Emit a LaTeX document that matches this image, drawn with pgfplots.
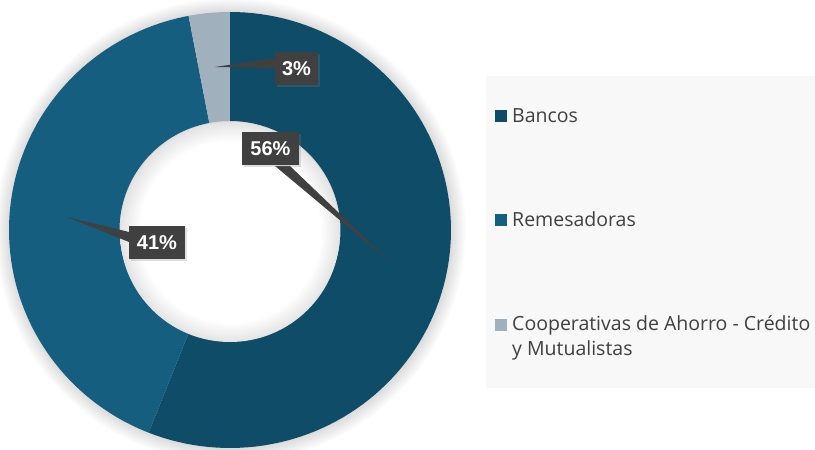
\documentclass[border=0pt]{standalone}
\usepackage{fontspec}
\setmainfont{Open Sans}
\newfontfamily\labelfont{Liberation Sans}
\usepackage{pgfplots}
\usepackage{pgfplotstable}
\pgfplotsset{compat=1.18}
\usetikzlibrary{shadows}

\definecolor{bancos}{RGB}{14,76,104}
\definecolor{remesa}{RGB}{21,94,127}
\definecolor{coop}{RGB}{161,176,189}
\definecolor{labelbox}{RGB}{64,64,64}
\definecolor{legendbg}{RGB}{248,248,248}
\definecolor{legendtext}{RGB}{64,64,64}

% soft edge inside the hole and round the ring
\pgfdeclareradialshading{holeshade}{\pgfpoint{0bp}{0bp}}{%
  color(0bp)=(white); color(20.5bp)=(white); color(25bp)=(black!11); color(50bp)=(black!11)}
\pgfdeclareradialshading{glowshade}{\pgfpoint{0bp}{0bp}}{%
  color(0bp)=(black!14); color(23.4bp)=(black!14); color(25bp)=(white); color(50bp)=(white)}

% share of each sector (%)
\pgfplotstableread{
sector value
Bancos 56
Remesadoras 41
Cooperativas 3
}\donutdata

% outer radii (x, y) and hole fraction
\def\rx{221}
\def\ry{218}
\def\hole{0.5}

% one ring slice from angle #1 to #2 (clockwise)
\newcommand\slice[3]{%
  \addplot[fill=#3, draw=none, domain=0:2.01, samples=202, variable=\t]
  ({\rx*ifthenelse(\t<1.005,1,\hole)*cos(ifthenelse(\t<1.005,(#1)+((#2)-(#1))*min(\t,1),(#2)+((#1)-(#2))*min(\t-1.01,1)))},
   {\ry*ifthenelse(\t<1.005,1,\hole)*sin(ifthenelse(\t<1.005,(#1)+((#2)-(#1))*min(\t,1),(#2)+((#1)-(#2))*min(\t-1.01,1)))});
}

\begin{document}
\begin{tikzpicture}[
  lab/.style={fill=labelbox, text=white, inner sep=0pt, minimum height=33pt,
    font=\labelfont\bfseries\fontsize{20}{23}\selectfont,
    drop shadow={opacity=0.25, shadow xshift=2pt, shadow yshift=-2pt}},
  leg/.style={anchor=base west, inner sep=0pt, text=legendtext,
    font=\fontsize{19.5}{23}\selectfont}
]
% cumulative angles, clockwise from 12 o'clock
\pgfplotstablegetelem{0}{value}\of\donutdata\edef\vBan{\pgfplotsretval}
\pgfplotstablegetelem{1}{value}\of\donutdata\edef\vRem{\pgfplotsretval}
\pgfplotstablegetelem{2}{value}\of\donutdata\edef\vCoo{\pgfplotsretval}
\pgfmathsetmacro\total{\vBan+\vRem+\vCoo}
\pgfmathsetmacro\aA{90}
\pgfmathsetmacro\aB{\aA-\vBan/\total*360}
\pgfmathsetmacro\aC{\aB-\vRem/\total*360}
\pgfmathsetmacro\aD{\aC-\vCoo/\total*360}
\begin{axis}[
  scale only axis, width=815pt, height=450pt,
  xmin=-230, xmax=585, ymin=-220, ymax=230,
  hide axis, clip=false
]
% legend panel
\fill[legendbg] (256,154) rectangle (585,-158);
% faint glow round the ring
\shade[shading=glowshade] (0,0) ellipse [x radius=236, y radius=233];

\slice{\aA}{\aB}{bancos}
\slice{\aB}{\aC}{remesa}
\slice{\aC}{\aD}{coop}

% hole with soft inner edge
\shade[shading=holeshade] (0,-2) ellipse [x radius=110, y radius=110];

% data labels with callouts
\fill[labelbox] (-15,163) -- (45,172) -- (45,162) -- cycle;
\node[lab, minimum width=43pt] at (66.5,161.5) {3\%};
\fill[labelbox] (160,-32) -- (45,64) -- (60,64) -- cycle;
\node[lab, minimum width=57pt] at (40.5,81) {56\%};
\fill[labelbox] (-163,13) -- (-101,-2) -- (-101,-12) -- cycle;
\node[lab, minimum width=56pt] at (-73,-12.5) {41\%};

% legend
\fill[bancos] (265,107.7) rectangle (277,120);
\node[leg] at (282,107.5) {Bancos};
\fill[remesa] (265,4.3) rectangle (277,16);
\node[leg] at (282,3.5) {Remesadoras};
\fill[coop] (265,-101) rectangle (277,-89.5);
\node[leg] at (282,-101) {Cooperativas de Ahorro - Crédito};
\node[leg] at (282,-126) {y Mutualistas};
\end{axis}
\pgfresetboundingbox
\path[use as bounding box] (current axis.south west) rectangle (current axis.north east);
\end{tikzpicture}
\end{document}
